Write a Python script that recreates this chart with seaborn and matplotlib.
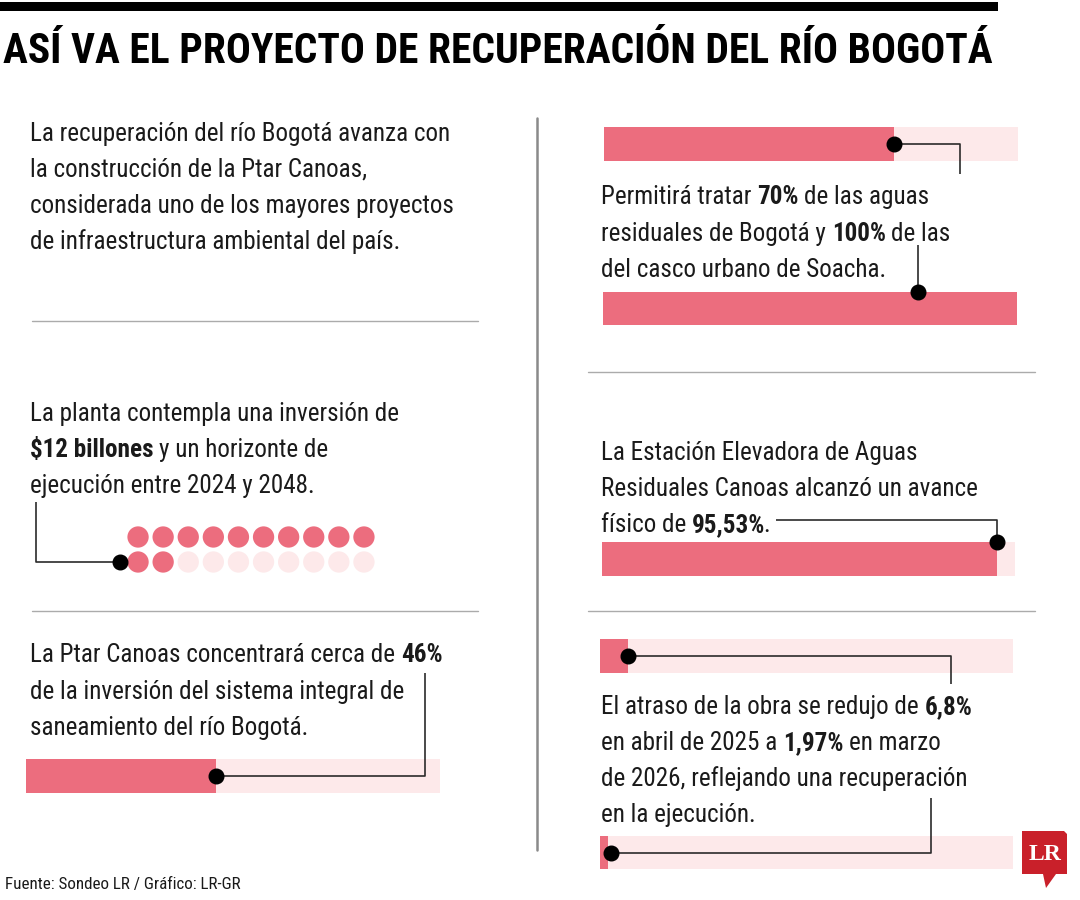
import matplotlib
matplotlib.use("Agg")
import matplotlib.pyplot as plt
import seaborn as sns
import pandas as pd
from matplotlib import font_manager
from matplotlib.patches import Polygon, Rectangle

# ---------------- datos ----------------
barras = ['inversion_ptar', 'aguas_bogota', 'aguas_soacha',
          'estacion_elevadora', 'atraso_abr_2025', 'atraso_mar_2026']
valores = [46, 70, 100, 95.53, 6.8, 1.97]
inversion_billones = 12
puntos_total = 20

titulo = 'ASÍ VA EL PROYECTO DE RECUPERACIÓN DEL RÍO BOGOTÁ'
fuente = 'Fuente: Sondeo LR / Gráfico: LR-GR'

texto_intro = [
    [('La recuperación del río Bogotá avanza con', False)],
    [('la construcción de la Ptar Canoas,', False)],
    [('considerada uno de los mayores proyectos', False)],
    [('de infraestructura ambiental del país.', False)],
]
texto_inversion = [
    [('La planta contempla una inversión de', False)],
    [('$12 billones', True), ('y un horizonte de', False)],
    [('ejecución entre 2024 y 2048.', False)],
]
texto_sistema = [
    [('La Ptar Canoas concentrará cerca de', False), ('46%', True)],
    [('de la inversión del sistema integral de', False)],
    [('saneamiento del río Bogotá.', False)],
]
texto_aguas = [
    [('Permitirá tratar', False), ('70%', True), ('de las aguas', False)],
    [('residuales de Bogotá y', False), ('100%', True), ('de las', False)],
    [('del casco urbano de Soacha.', False)],
]
texto_estacion = [
    [('La Estación Elevadora de Aguas', False)],
    [('Residuales Canoas alcanzó un avance', False)],
    [('físico de', False), ('95,53%', True), ('.', False)],
]
texto_atraso = [
    [('El atraso de la obra se redujo de', False), ('6,8%', True)],
    [('en abril de 2025 a', False), ('1,97%', True), ('en marzo', False)],
    [('de 2026, reflejando una recuperación', False)],
    [('en la ejecución.', False)],
]

# ---------------- estilo ----------------
ROSA = '#EC6D7E'
ROSA_CLARO = '#FDE9EA'
NEGRO = '#1A1A1A'
GRIS = '#ABABAB'
LINEA = '#2B2B2B'

sns.set_theme(style='white')
disponibles = {f.name for f in font_manager.fontManager.ttflist}
FAMILIA = 'DejaVu Sans'
for fam in ['Liberation Sans Narrow', 'Roboto Condensed', 'Noto Sans Condensed',
            'Open Sans Condensed', 'Roboto', 'Liberation Sans']:
    if fam in disponibles:
        FAMILIA = fam
        break
plt.rcParams['font.family'] = [FAMILIA, 'DejaVu Sans']

W, H = 1080, 900
fig = plt.figure(figsize=(W / 100, H / 100), dpi=100)
fig.patch.set_facecolor('white')
base = fig.add_axes([0, 0, 1, 1])
base.set_xlim(0, W)
base.set_ylim(H, 0)
base.axis('off')
base.set_zorder(5)
base.patch.set_alpha(0)
renderer = fig.canvas.get_renderer()


def ancho(texto, size, negrita=False):
    t = base.text(0, 0, texto, fontsize=size, fontweight='bold' if negrita else 'normal')
    w = t.get_window_extent(renderer).width
    t.remove()
    return w


def ajustar(texto, objetivo, negrita=False):
    return 10 * objetivo / ancho(texto, 10, negrita)


def ejes_px(x0, y0, x1, y1):
    return fig.add_axes([x0 / W, 1 - y1 / H, (x1 - x0) / W, (y1 - y0) / H])


def a_base(trans, x, y):
    return base.transData.inverted().transform(trans.transform((x, y)))


def linea_rica(x, y, segmentos, size):
    espacio = ancho('x x', size) - ancho('xx', size)
    cx = x
    for i, (seg, negrita) in enumerate(segmentos):
        if i > 0:
            # la puntuación va pegada al segmento anterior
            cx += -2 if seg[0] in '.,' else espacio
        t = base.text(cx, y, seg, fontsize=size, color=NEGRO, va='baseline', ha='left',
                      fontweight='bold' if negrita else 'normal')
        cx += t.get_window_extent(renderer).width
    return cx


def bloque(x, baselines, lineas, size):
    fines = []
    for yb, segs in zip(baselines, lineas):
        fines.append(linea_rica(x, yb, segs, size))
    return fines


def barra(x0, y0, x1, y1, valor):
    ax = ejes_px(x0, y0, x1, y1)
    df = pd.DataFrame({'fila': [''], 'total': [100], 'valor': [valor]})
    sns.barplot(data=df, x='total', y='fila', color=ROSA_CLARO, width=1, saturation=1,
                orient='h', linewidth=0, edgecolor='none', ax=ax)
    sns.barplot(data=df, x='valor', y='fila', color=ROSA, width=1, saturation=1,
                orient='h', linewidth=0, edgecolor='none', ax=ax)
    ax.set_xlim(0, 100)
    ax.set_ylim(0.5, -0.5)
    ax.axis('off')
    return ax


def conector(puntos):
    xs = [p[0] for p in puntos]
    ys = [p[1] for p in puntos]
    base.plot(xs, ys, color=LINEA, lw=1.2, solid_capstyle='butt', zorder=3)
    base.plot(xs[0], ys[0], 'o', color='black', ms=10.5, zorder=4)


# ---------------- encabezado ----------------
base.add_patch(Rectangle((0, 2), 998, 9, color='black', lw=0))
size_titulo = ajustar(titulo, 987, True)
base.text(3, 63, titulo, fontsize=size_titulo, fontweight='bold', color='black', va='baseline')

size_cuerpo = (ajustar(texto_intro[0][0][0], 422) + ajustar(texto_estacion[1][0][0], 373)) / 2

# ---------------- columna izquierda ----------------
bloque(30, [141, 177, 213, 249], texto_intro, size_cuerpo)
base.plot([32, 478], [321, 321], color=GRIS, lw=1)

bloque(30, [421, 457, 493], texto_inversion, size_cuerpo)
ax_puntos = ejes_px(125.5, 524.5, 376.5, 574.5)
df_puntos = pd.DataFrame({'col': [i % 10 for i in range(puntos_total)],
                          'fila': [i // 10 for i in range(puntos_total)]})
df_puntos['estado'] = ['lleno' if i < inversion_billones else 'vacío' for i in range(puntos_total)]
sns.scatterplot(data=df_puntos, x='col', y='fila', hue='estado',
                palette={'lleno': ROSA, 'vacío': ROSA_CLARO}, s=235, linewidth=0,
                legend=False, ax=ax_puntos)
ax_puntos.set_xlim(-0.5, 9.5)
ax_puntos.set_ylim(1.5, -0.5)
ax_puntos.axis('off')
px, py = a_base(ax_puntos.transData, -0.72, 1)
conector([(px, py), (36, py), (36, 502)])

base.plot([32, 478], [611, 611], color=GRIS, lw=1)
bloque(30, [662, 699, 735], texto_sistema, size_cuerpo)
ax = barra(26, 759, 440, 793, valores[0])
px, py = a_base(ax.transData, valores[0], 0)
conector([(px, py), (425, py), (425, 673)])

base.text(5, 889, fuente, fontsize=ajustar(fuente, 235), color=NEGRO, va='baseline')

# divisor central
base.plot([537, 537], [118, 850], color='#8A8A8A', lw=1.8)

# ---------------- columna derecha ----------------
ax = barra(604, 127, 1018, 161, valores[1])
px, py = a_base(ax.transData, valores[1], 0)
conector([(px, py), (960, py), (960, 174)])
bloque(601, [204, 241, 277], texto_aguas, size_cuerpo)
ax = barra(603, 292, 1017, 325, valores[2])
px, py = a_base(ax.transAxes, 0.76, 1.0)
conector([(px, py), (px, 245)])

base.plot([588, 1035], [372, 372], color=GRIS, lw=1)
fines = bloque(601, [460, 496, 532], texto_estacion, size_cuerpo)
ax = barra(602, 542, 1015, 576, valores[3])
px, py = a_base(ax.transData, valores[3], -0.5)
conector([(px, py), (px, 520), (fines[-1] + 6, 520)])

base.plot([588, 1035], [611, 611], color=GRIS, lw=1)
ax = barra(600, 639, 1013, 673, valores[4])
px, py = a_base(ax.transData, valores[4], 0)
conector([(px, py), (951, py), (951, 684)])
bloque(601, [714, 750, 786, 822], texto_atraso, size_cuerpo)
ax = barra(600, 836, 1013, 869, valores[5])
px, py = a_base(ax.transData, valores[5], 0)
conector([(px + 3, py), (931, py), (931, 798)])

# ---------------- logo LR ----------------
base.add_patch(Polygon([(1022, 831), (1064, 831), (1067, 834), (1067, 874), (1056, 874),
                        (1046, 888), (1043, 874), (1022, 874)], closed=True,
                       color='#C9202A', lw=0, zorder=3))
base.text(1045, 854, 'LR', fontsize=17, fontweight='bold', color='white',
          family=['Liberation Serif', 'DejaVu Serif'], ha='center', va='center', zorder=4)

fig.savefig('out.png', dpi=100, facecolor='white')
